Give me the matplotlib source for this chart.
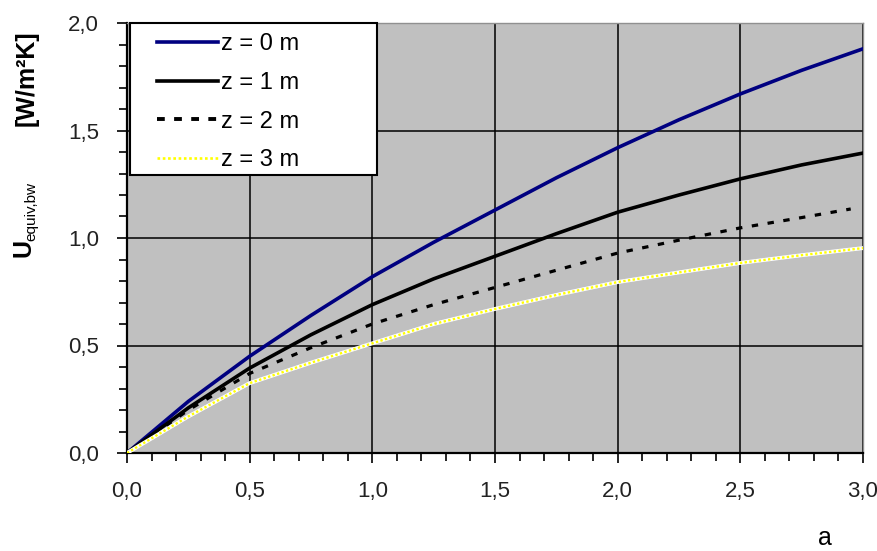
import matplotlib
matplotlib.use("Agg")
import matplotlib.pyplot as plt
from matplotlib.ticker import MultipleLocator, FuncFormatter
from matplotlib.lines import Line2D
from matplotlib.patches import Rectangle

# values (a = 0 .. 3 in steps of 0.25)
a_vals = [0.0, 0.25, 0.5, 0.75, 1.0, 1.25, 1.5, 1.75, 2.0, 2.25, 2.5, 2.75, 3.0]
u_z0 = [0.0, 0.24, 0.45, 0.64, 0.82, 0.98, 1.13, 1.28, 1.42, 1.55, 1.67, 1.78, 1.88]
u_z1 = [0.0, 0.21, 0.395, 0.55, 0.69, 0.81, 0.915, 1.02, 1.12, 1.20, 1.275, 1.34, 1.395]
u_z2 = [0.0, 0.20, 0.37, 0.49, 0.60, 0.69, 0.77, 0.85, 0.93, 0.99, 1.047, 1.095, 1.135]
u_z3 = [0.0, 0.17, 0.325, 0.42, 0.51, 0.60, 0.67, 0.735, 0.795, 0.84, 0.884, 0.92, 0.953]
labels = ["z = 0 m", "z = 1 m", "z = 2 m", "z = 3 m"]

plt.rcParams["font.family"] = ["Liberation Sans", "DejaVu Sans"]

fig = plt.figure(figsize=(8.78, 5.51), dpi=100)
ax = fig.add_axes([127/878, 98/551, 736/878, 430/551])
ax.set_facecolor("#c0c0c0")

ax.plot(a_vals, u_z0, color="#000080", lw=2.6, zorder=3)
ax.plot(a_vals, u_z1, color="black", lw=2.6, zorder=3)
ax.plot(a_vals[:-1] + [2.95], u_z2, color="black", lw=2.3,
        linestyle=(0, (2, 3.0)), zorder=3)
ax.plot(a_vals, u_z3, color="white", lw=2.8, zorder=3)
ax.plot(a_vals, u_z3, color="#ffff00", lw=1.7, linestyle=(0, (1, 1)), zorder=4)

ax.set_xlim(0, 3)
ax.set_ylim(0, 2)
ax.xaxis.set_major_locator(MultipleLocator(0.5))
ax.yaxis.set_major_locator(MultipleLocator(0.5))
ax.xaxis.set_minor_locator(MultipleLocator(0.1))
ax.yaxis.set_minor_locator(MultipleLocator(0.1))
comma = FuncFormatter(lambda v, p: f"{v:.1f}".replace(".", ","))
ax.xaxis.set_major_formatter(comma)
ax.yaxis.set_major_formatter(comma)
ax.grid(True, which="major", color="black", lw=1.1, zorder=1)
ax.set_axisbelow(True)

ax.tick_params(which="major", direction="out", length=7, width=1.2, color="black",
               labelsize=16, labelcolor="#222222")
ax.tick_params(which="minor", direction="out", length=6, width=1.2, color="black")
ax.tick_params(axis="x", pad=13)
ax.tick_params(axis="y", pad=13)

for s in ["left", "bottom"]:
    ax.spines[s].set_color("black")
    ax.spines[s].set_linewidth(1.6)
for s in ["top", "right"]:
    ax.spines[s].set_color("#909090")
    ax.spines[s].set_linewidth(1.0)

# legend box
ax.add_patch(Rectangle((3/738, (453-175)/430), 248/738, 152/430,
                       transform=ax.transAxes, facecolor="white",
                       edgecolor="black", lw=1.5, zorder=5, clip_on=False))
handles = [
    Line2D([], [], color="#000080", lw=2.6),
    Line2D([], [], color="black", lw=2.6),
    Line2D([], [], color="black", lw=2.8, linestyle=(0, (2, 2.4))),
    Line2D([], [], color="#ffff00", lw=1.9, linestyle=(0, (1, 1))),
]
leg = ax.legend(handles, labels, loc="upper left",
                bbox_to_anchor=((157-127)/738, (453-33)/430),
                frameon=False, fontsize=17, handlelength=2.6,
                handletextpad=0.1, labelspacing=0.71, borderpad=0,
                borderaxespad=0)
leg.set_zorder(6)

# y label
fig.text(24/878, 1-257/551, "U", rotation=90, ha="center", va="bottom",
         fontsize=18, fontweight="bold")
fig.text(31/878, 1-241/551, "equiv,bw", rotation=90, ha="center", va="bottom",
         fontsize=11)
fig.text(27/878, 1-126/551, "[W/m\u00b2K]", rotation=90, ha="center", va="bottom",
         fontsize=18, fontweight="bold")

# x label
fig.text(825/878, 1-538/551, "a", ha="center", va="center", fontsize=18)

fig.savefig("out.png", dpi=100)
